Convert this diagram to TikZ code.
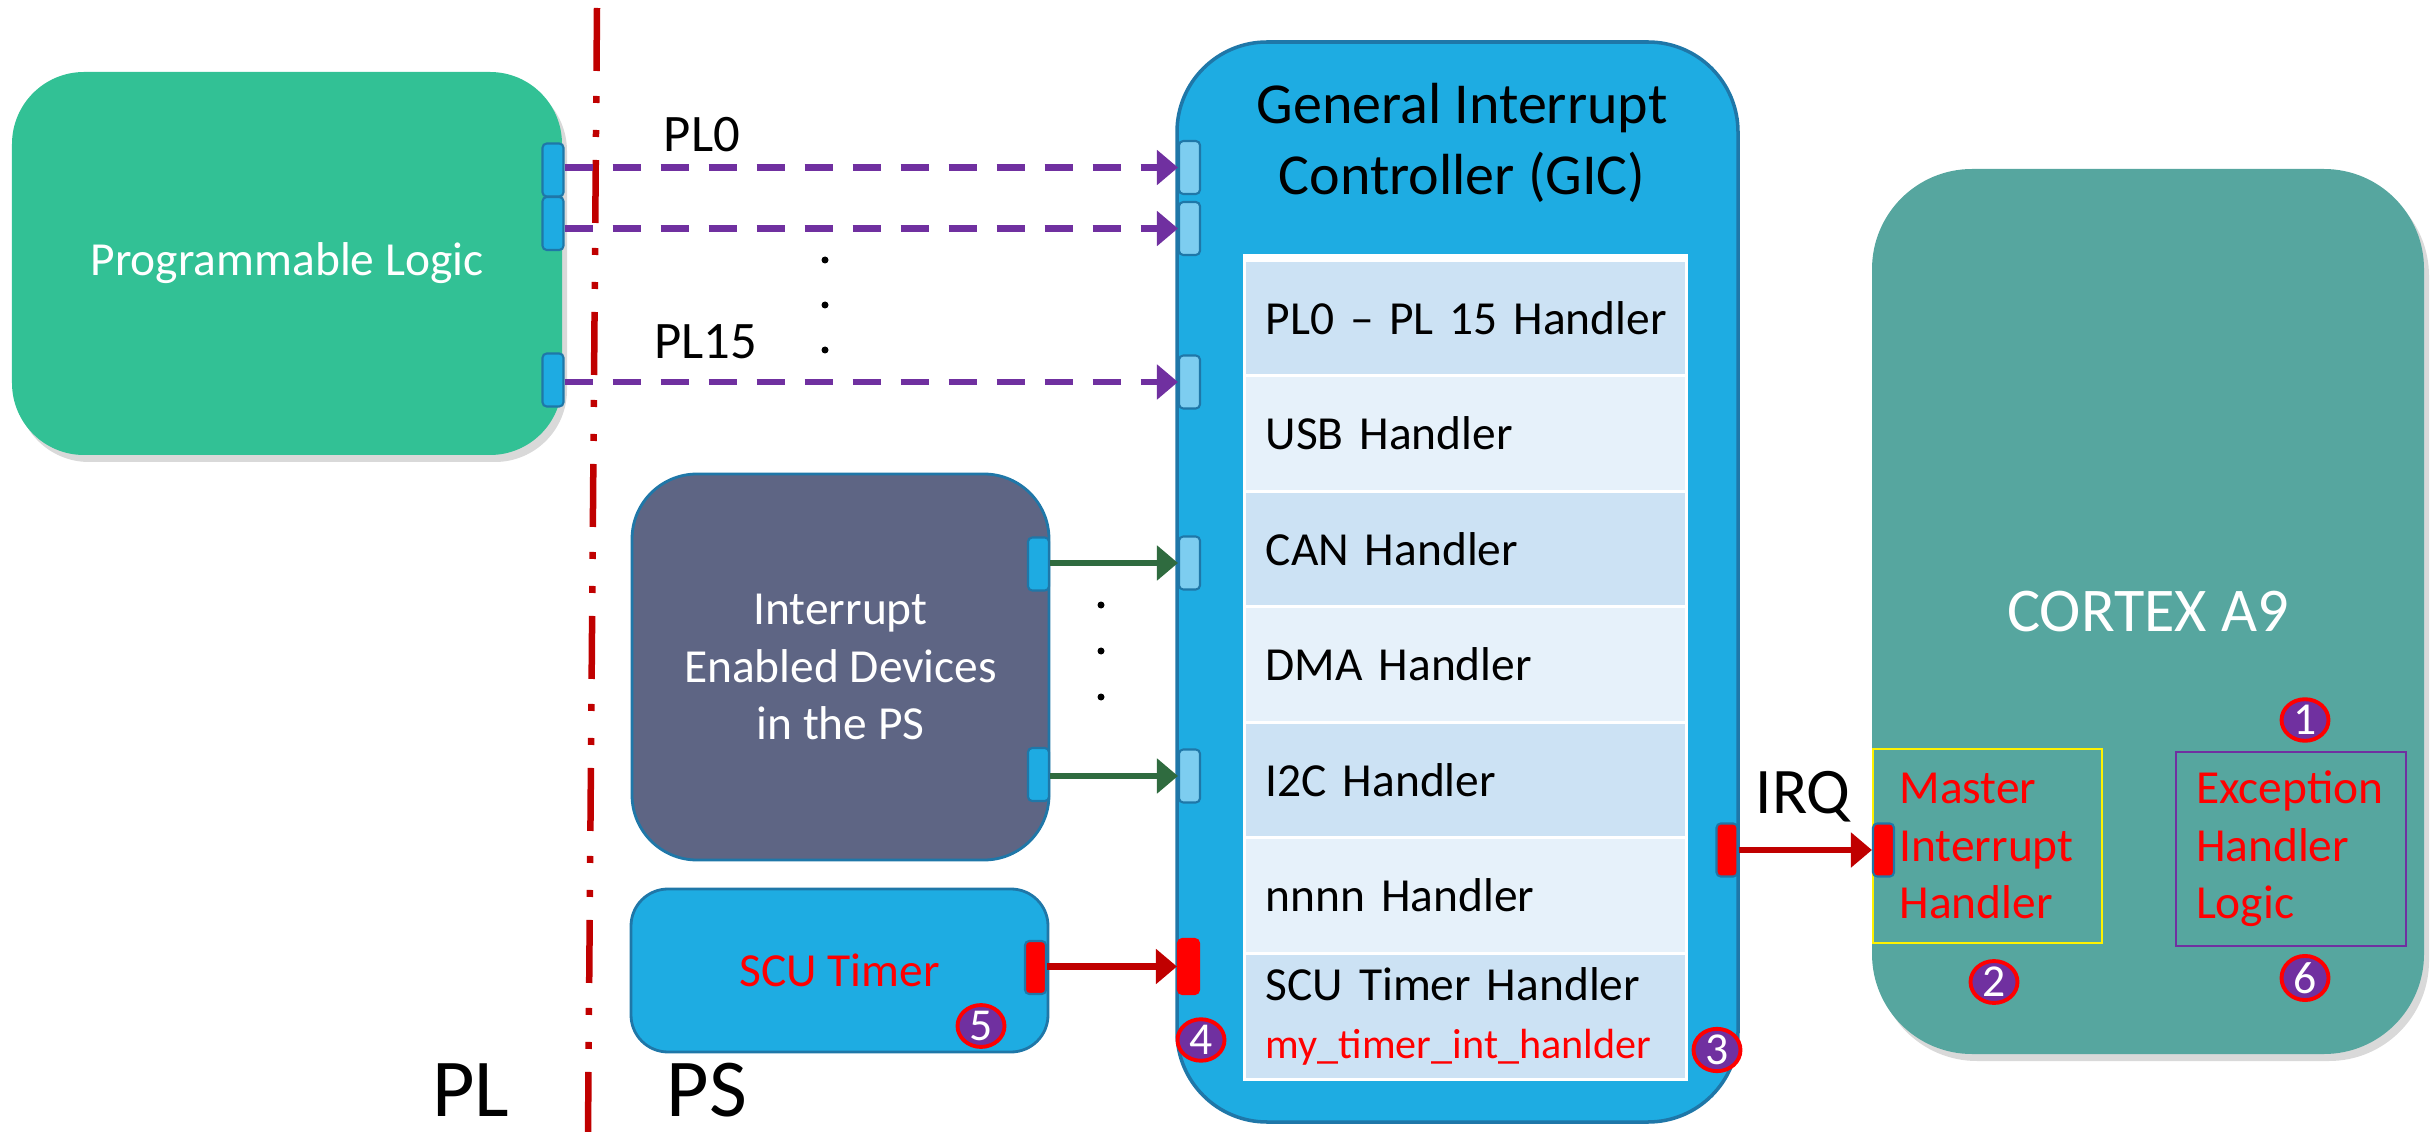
\documentclass[tikz,border=0pt]{standalone}
\usepackage{fontspec}
\setmainfont{Carlito}
\usetikzlibrary{arrows.meta,shapes.geometric,shadows}
\definecolor{plgreen}{RGB}{50,193,149}
\definecolor{gicblue}{RGB}{30,172,226}
\definecolor{edgeblue}{RGB}{31,119,168}
\definecolor{portblue}{RGB}{30,171,226}
\definecolor{portlight}{RGB}{125,205,240}
\definecolor{rowdark}{RGB}{204,226,244}
\definecolor{rowlight}{RGB}{230,241,250}
\definecolor{iedgray}{RGB}{94,101,132}
\definecolor{cortexteal}{RGB}{86,166,159}
\definecolor{irqpurple}{RGB}{112,48,160}
\definecolor{psgreen}{RGB}{47,107,63}
\definecolor{darkred}{RGB}{192,0,0}

\begin{document}
\begin{tikzpicture}[
  txt/.style={font=\fontsize{13.5}{16.4}\selectfont},
  port/.style={draw=edgeblue, line width=0.6pt, rounded corners=1.2pt, minimum width=0.21cm, minimum height=0.53cm, inner sep=0pt},
  hrow/.style={anchor=north west, text width=3.99cm, inner xsep=0.2cm, inner ysep=0pt, align=left, txt},
  badge/.style={ellipse, fill=irqpurple, draw=red, line width=1.1pt, text=white, minimum width=0.47cm, minimum height=0.40cm, inner sep=0pt, font=\fontsize{13}{13}\selectfont},
  shade/.style={drop shadow={shadow xshift=0.05cm, shadow yshift=-0.07cm, opacity=0.3}},
  tip/.style={-{Triangle[length=0.21cm,width=0.34cm]}, line width=0.065cm},
  plarrow/.style={tip, irqpurple, dash pattern=on 0.28cm off 0.2cm},
  divider/.style={darkred, line width=0.065cm, dash pattern=on 0.63cm off 0.25cm on 0.07cm off 0.27cm on 0.07cm off 0.23cm}
]
\useasboundingbox (0,0) rectangle (24.36,-11.32);

\draw[divider] (5.97,-0.08) -- (5.88,-11.32);

\node[shade, fill=plgreen, rounded corners=0.72cm, minimum width=5.5cm, minimum height=3.83cm, text=white, txt] (logic) at (2.87,-2.635) {Programmable Logic};
\node[port, fill=portblue] (pa) at (5.53,-1.70) {};
\node[port, fill=portblue] (pb) at (5.53,-2.235) {};
\node[port, fill=portblue] (pc) at (5.53,-3.80) {};

\node[fill=gicblue, draw=edgeblue, line width=1pt, rounded corners=0.9cm, minimum width=5.61cm, minimum height=10.8cm] (gic) at (14.575,-5.82) {};
\node[font=\fontsize{16.5}{20.2}\selectfont, align=center] (gictitle) at (14.62,-1.43) {General Interrupt\\Controller (GIC)};
\node[fill=white, anchor=north west, minimum width=4.45cm, minimum height=8.27cm, inner sep=0pt] (table) at (12.42,-2.53) {};
\node[hrow, fill=rowdark, minimum height=1.125cm] (r1) at (12.45,-2.61) {\mbox{PL0 – PL 15 Handler}};
\node[hrow, fill=rowlight, minimum height=1.125cm] (r2) at (12.45,-3.765) {USB Handler};
\node[hrow, fill=rowdark, minimum height=1.125cm] (r3) at (12.45,-4.92) {CAN Handler};
\node[hrow, fill=rowlight, minimum height=1.125cm] (r4) at (12.45,-6.075) {DMA Handler};
\node[hrow, fill=rowdark, minimum height=1.125cm] (r5) at (12.45,-7.23) {I2C Handler};
\node[hrow, fill=rowlight, minimum height=1.125cm] (r6) at (12.45,-8.385) {nnnn Handler};
\node[hrow, fill=rowdark, minimum height=1.23cm] (r7) at (12.45,-9.54) {SCU Timer Handler\\{\color{red}\fontsize{12}{15.6}\selectfont my\_timer\_int\_hanlder}};

\node[port, fill=portlight] (ga) at (11.895,-1.675) {};
\node[port, fill=portlight] (gb) at (11.895,-2.285) {};
\node[port, fill=portlight] (gc) at (11.895,-3.82) {};
\node[port, fill=portlight] (gd) at (11.895,-5.63) {};
\node[port, fill=portlight] (ge) at (11.895,-7.76) {};
\node[port, fill=red, draw=red, minimum height=0.55cm] (gr) at (11.885,-9.665) {};
\node[port, fill=red] (ip) at (17.27,-8.50) {};

\node[fill=iedgray, draw=edgeblue, line width=0.8pt, rounded corners=0.65cm, minimum width=4.17cm, minimum height=3.86cm, align=center, text=white, txt] (ied) at (8.405,-6.67) {Interrupt\\Enabled Devices\\in the PS};
\node[port, fill=portblue] (ia) at (10.385,-5.64) {};
\node[port, fill=portblue] (ib) at (10.385,-7.745) {};

\node[fill=gicblue, draw=edgeblue, line width=0.8pt, rounded corners=0.37cm, minimum width=4.17cm, minimum height=1.63cm, text=red, txt] (scu) at (8.395,-9.705) {SCU Timer};
\node[port, fill=red] (sp) at (10.355,-9.675) {};

\node[shade, fill=cortexteal, rounded corners=1cm, minimum width=5.52cm, minimum height=8.85cm, text=white, font=\fontsize{17.7}{21}\selectfont] (cortex) at (21.48,-6.115) {CORTEX A9};
\node[draw=yellow, line width=0.8pt, minimum width=2.29cm, minimum height=1.94cm, text width=1.76cm, inner sep=0pt, align=left, text=red, txt] (master) at (19.875,-8.46) {Master\\Interrupt\\Handler};
\node[draw=irqpurple, line width=0.8pt, minimum width=2.3cm, minimum height=1.94cm, text width=1.9cm, inner sep=0pt, align=left, text=red, txt] (exception) at (22.91,-8.49) {Exception\\Handler\\Logic};
\node[port, fill=red] (cp) at (18.835,-8.50) {};

\draw[plarrow] (pa.east |- ga.west) -- (ga.west);
\draw[plarrow] (pb.east |- gb.west) -- (gb.west);
\draw[plarrow] (pc.east |- gc.west) -- (gc.west);
\draw[tip, psgreen] (ia.east |- gd.west) -- (gd.west);
\draw[tip, psgreen] (ib.east |- ge.west) -- (ge.west);
\draw[tip, darkred] (sp.east |- gr.west) -- (gr.west);
\draw[tip, darkred] (ip.east) -- (cp.west);

\node[font=\fontsize{15}{18}\selectfont] (pl0) at (7.02,-1.35) {PL0};
\node[font=\fontsize{15}{18}\selectfont] (pl15) at (7.06,-3.42) {PL15};
\node[font=\fontsize{18.5}{22}\selectfont] (irq) at (18.03,-7.97) {IRQ};
\node[font=\fontsize{23.4}{28}\selectfont] (pllabel) at (4.71,-10.90) {PL};
\node[font=\fontsize{23.4}{28}\selectfont] (pslabel) at (7.07,-10.90) {PS};

\fill (8.25,-2.60) circle (0.035);
\fill (8.25,-3.05) circle (0.035);
\fill (8.25,-3.50) circle (0.035);
\fill (11.01,-6.05) circle (0.035);
\fill (11.01,-6.51) circle (0.035);
\fill (11.01,-6.97) circle (0.035);

\node[badge] (n1) at (23.05,-7.20) {1};
\node[badge] (n2) at (19.94,-9.82) {2};
\node[badge] (n3) at (17.17,-10.50) {3};
\node[badge] (n4) at (12.01,-10.40) {4};
\node[badge] (n5) at (9.81,-10.26) {5};
\node[badge] (n6) at (23.05,-9.78) {6};
\end{tikzpicture}
\end{document}
